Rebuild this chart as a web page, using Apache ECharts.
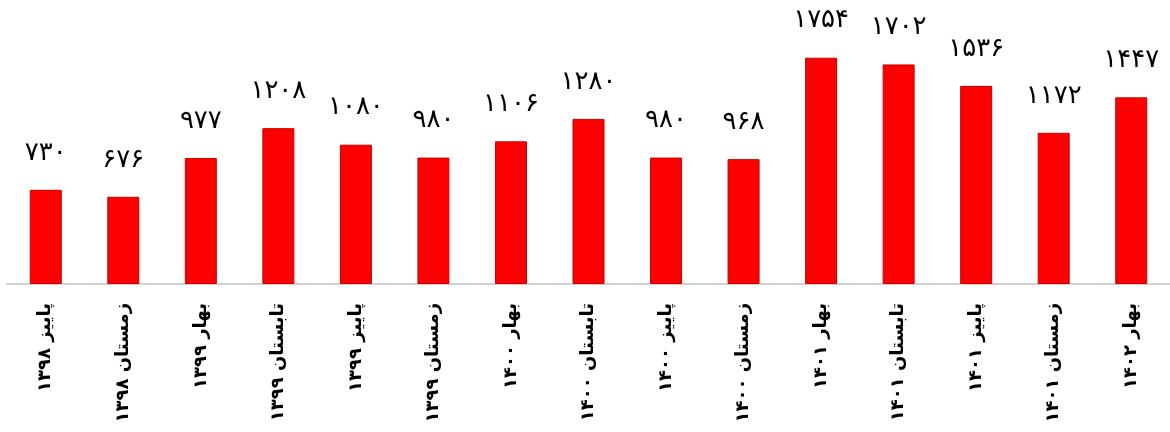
<!DOCTYPE html>
<html>
<head>
<meta charset="utf-8">
<script src="https://cdn.jsdelivr.net/npm/echarts@6/dist/echarts.min.js"></script>
<style>
html,body{margin:0;padding:0;background:#fff;}
#c{width:1170px;height:432px;}
</style>
</head>
<body>
<div id="c"></div>
<script>
const categories = [
  'پاییز ۱۳۹۸', 'زمستان ۱۳۹۸', 'بهار ۱۳۹۹', 'تابستان ۱۳۹۹', 'پاییز ۱۳۹۹',
  'زمستان ۱۳۹۹', 'بهار ۱۴۰۰', 'تابستان ۱۴۰۰', 'پاییز ۱۴۰۰', 'زمستان ۱۴۰۰',
  'بهار ۱۴۰۱', 'تابستان ۱۴۰۱', 'پاییز ۱۴۰۱', 'زمستان ۱۴۰۱', 'بهار ۱۴۰۲'
];
const values = [730, 676, 977, 1208, 1080, 980, 1106, 1280, 980, 968, 1754, 1702, 1536, 1172, 1447];

const faDigits = '۰۱۲۳۴۵۶۷۸۹';
function toFa(n) { return String(n).replace(/[0-9]/g, d => faDigits[+d]); }

const chart = echarts.init(document.getElementById('c'));
chart.setOption({
  animation: false,
  grid: { left: 7, right: -5, top: 26, bottom: 148 },
  xAxis: {
    type: 'category',
    data: categories,
    axisLine: { show: true, lineStyle: { color: '#d0d0d0', width: 2 } },
    axisTick: { show: false },
    axisLabel: {
      interval: 0,
      rotate: 90,
      margin: 19,
      color: '#000',
      fontSize: 18,
      fontWeight: 'bold',
      fontFamily: 'DejaVu Sans'
    }
  },
  yAxis: {
    type: 'value',
    min: 0,
    max: 2000,
    show: false,
    splitLine: { show: false }
  },
  series: [{
    type: 'bar',
    data: values,
    barWidth: 32,
    itemStyle: { color: '#ff0000', borderColor: '#c40000', borderWidth: 1 },
    label: {
      show: true,
      position: 'top',
      distance: 24,
      color: '#000',
      fontSize: 26,
      fontFamily: 'DejaVu Sans',
      formatter: p => toFa(p.value)
    }
  }]
});
</script>
</body>
</html>
